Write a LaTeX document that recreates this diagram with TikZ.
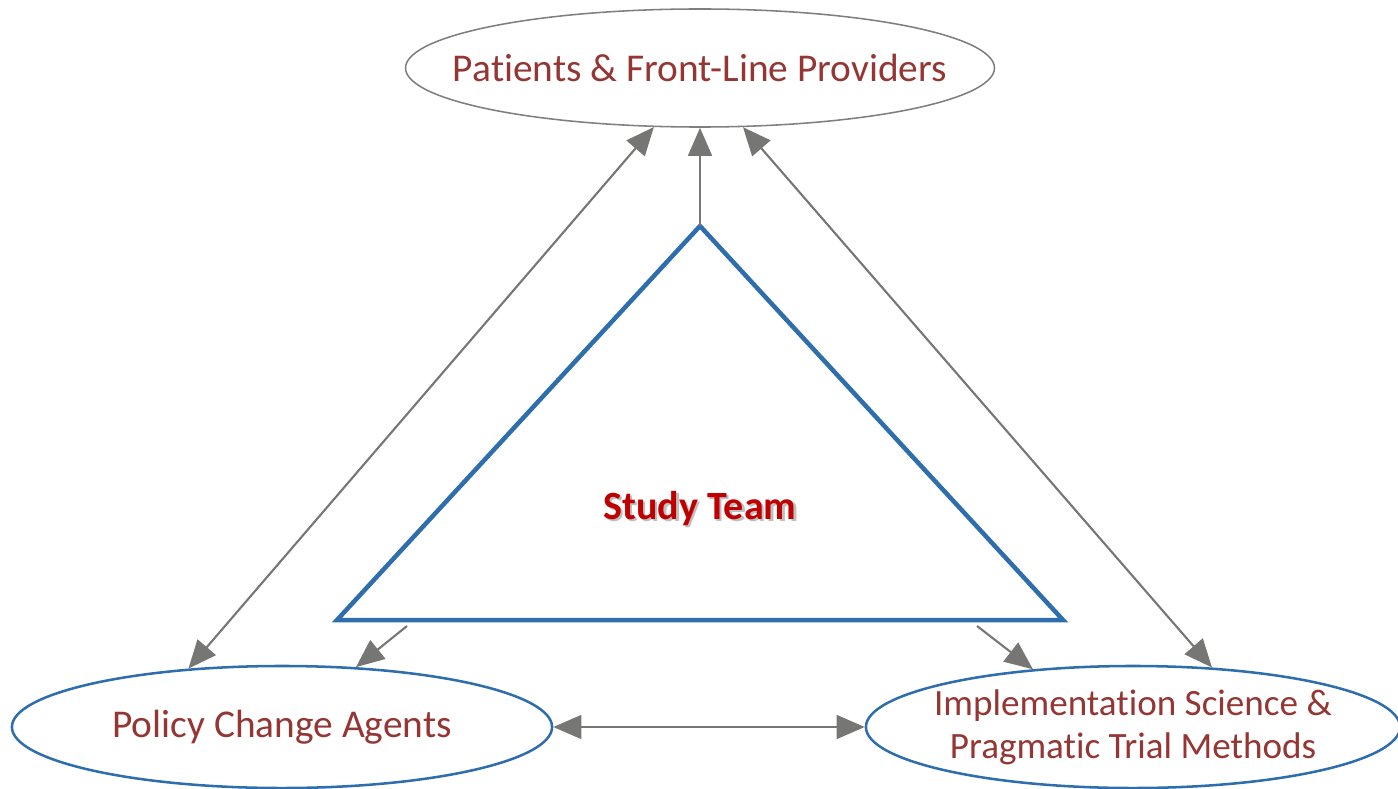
\documentclass[tikz,border=0pt]{standalone}
\usepackage{fontspec}
\setmainfont{Carlito}[Ligatures=NoCommon]
\usetikzlibrary{arrows.meta,shapes,positioning}

\definecolor{capred}{HTML}{943634}
\definecolor{teamred}{HTML}{C00000}
\definecolor{lineblue}{HTML}{2E6EAD}
\definecolor{arrgray}{HTML}{767775}
\definecolor{ringgray}{HTML}{7F7F7F}

\newcommand\shadowed[1]{\makebox[0pt][l]{\hspace{1.5pt}\raisebox{-1.5pt}{\textcolor{black!25}{#1}}}#1}

\begin{document}
\begin{tikzpicture}[
  x=0.025cm, y=-0.025cm,
  font=\fontsize{28}{33}\selectfont,
  % STYLES
  every node/.style={text=capred},
  % OWNs
  gnode/.style={ellipse,draw=ringgray,line width=1.1pt,minimum width=14.72cm,minimum height=2.95cm,inner xsep=-35pt,inner ysep=0pt},
  bnode/.style={ellipse,draw=lineblue,line width=1.8pt,minimum height=3.05cm,inner xsep=-35pt,inner ysep=0pt,align=center},
  tnode/.style={text=teamred,font=\fontsize{28.5}{34}\selectfont\bfseries},
  conn/.style={color=arrgray,line width=1.5pt,-{Triangle[length=20pt,width=17pt]}},
  dconn/.style={conn,{Triangle[length=20pt,width=17pt]}-{Triangle[length=20pt,width=17pt]}}]

  \useasboundingbox (0,0) rectangle (1398,788);

  \node[gnode] (pat) at (700,68) {Patients \& Front-Line Providers};
  \node[bnode,minimum width=13.5cm] (pol) at (282,727) {Policy Change Agents};
  \node[bnode,minimum width=13.35cm,font=\fontsize{26.4}{30.5}\selectfont] (imp) at (1133,727)
    {Implementation Science \&\\Pragmatic Trial Methods};

  % triangle
  \coordinate (apex) at (700,226);
  \coordinate (bl) at (337,620);
  \coordinate (br) at (1063,620);
  \draw[lineblue,line width=3.2pt,miter limit=20] (apex) -- (bl) -- (br) -- cycle;
  \node[tnode] (team) at (700,510) {\shadowed{Study Team}};

  \coordinate (sl) at (407,626);
  \coordinate (sr) at (977,626);

  \path[conn]
    (apex) edge (pat.south)
    (sl) edge (pol.39)
    (sr) edge (imp.150);

  \path[dconn]
    (pol.148) edge (pat.232)
    (imp.37) edge (pat.306)
    (pol.east) edge (imp.west);
\end{tikzpicture}
\end{document}
